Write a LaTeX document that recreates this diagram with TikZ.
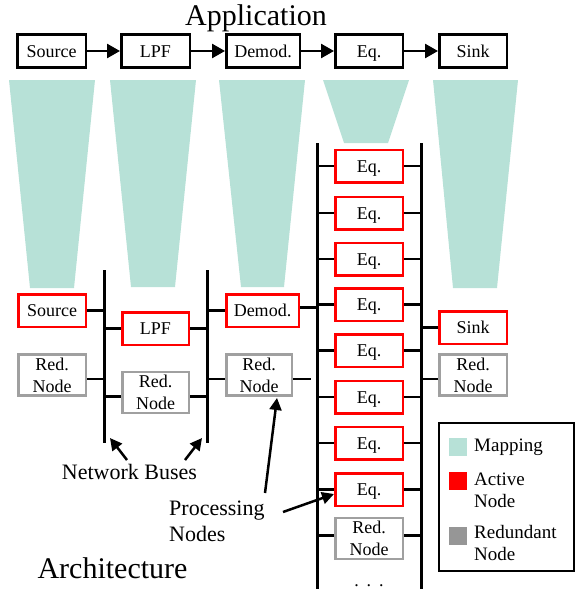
\documentclass[tikz,border=0pt]{standalone}
\usepackage{fontspec}
\setmainfont{Liberation Serif}
\usetikzlibrary{arrows.meta}
\definecolor{mapc}{RGB}{183,225,215}
\definecolor{redc}{RGB}{255,0,0}
\definecolor{grayc}{RGB}{160,160,160}
\definecolor{graysq}{RGB}{150,150,150}
\begin{document}
\begin{tikzpicture}[x=1pt,y=-1pt,
  appbox/.style={draw=black,line width=2.5pt,inner sep=0pt,minimum height=33pt,text height=12.5pt,text depth=0pt,font=\fontsize{18}{20}\selectfont},
  actbox/.style={draw=redc,line width=2.5pt,inner sep=0pt,minimum height=32.5pt,text height=12.5pt,text depth=0pt,font=\fontsize{18}{20}\selectfont},
  redbox/.style={draw=grayc,line width=2.5pt,inner sep=0pt,minimum height=41pt,align=center,font=\fontsize{18}{22}\selectfont},
  bus/.style={line width=3pt},
  conn/.style={line width=2.5pt},
  flow/.style={line width=2.5pt,-{Triangle[length=13pt,width=14pt]}},
  note/.style={line width=2.5pt,-{Triangle[length=12pt,width=12pt]}},
  mapping/.style={fill=mapc},
  label/.style={font=\fontsize{22}{26}\selectfont},
  title/.style={font=\fontsize{30}{36}\selectfont},
  legtext/.style={font=\fontsize{19}{22}\selectfont,anchor=base west,inner sep=0pt}
]
\useasboundingbox (0,0) rectangle (576,589);

% ---------- Application ----------
\node[title,anchor=base] (app) at (256,25) {Application};
\node[appbox,minimum width=68.5pt] (s0) at (51.5,51) {Source};
\node[appbox,minimum width=68.5pt] (l0) at (155.5,51) {LPF};
\node[appbox,minimum width=73.5pt] (d0) at (263,51) {Demod.};
\node[appbox,minimum width=67.5pt] (e0) at (369,51) {Eq.};
\node[appbox,minimum width=67.5pt] (k0) at (473,51) {Sink};
\draw[flow] (s0.east) -- (l0.west);
\draw[flow] (l0.east) -- (d0.west);
\draw[flow] (d0.east) -- (e0.west);
\draw[flow] (e0.east) -- (k0.west);

% ---------- Mapping ----------
\fill[mapping] (9,80) -- (95,80) -- (74,288) -- (30,288) -- cycle;
\fill[mapping] (110,80) -- (196,80) -- (175,287) -- (131,287) -- cycle;
\fill[mapping] (219,80) -- (305,80) -- (284,287) -- (241,287) -- cycle;
\fill[mapping] (323,80) -- (409,80) -- (388,143) -- (344,143) -- cycle;
\fill[mapping] (433,80) -- (518,80) -- (497,288) -- (453,288) -- cycle;

% ---------- Buses ----------
\coordinate (b1t) at (104,270); \coordinate (b1b) at (104,443);
\coordinate (b2t) at (207,270); \coordinate (b2b) at (207,443);
\coordinate (b3t) at (317,143); \coordinate (b3b) at (317,589);
\coordinate (b4t) at (421,143); \coordinate (b4b) at (421,589);
\draw[bus] (b1t) -- (b1b);
\draw[bus] (b2t) -- (b2b);
\draw[bus] (b3t) -- (b3b);
\draw[bus] (b4t) -- (b4b);

% ---------- Architecture nodes ----------
\node[actbox,minimum width=67.5pt] (sA) at (52,310.5) {Source};
\node[actbox,minimum width=66.5pt] (lA) at (155.5,328.5) {LPF};
\node[actbox,minimum width=72.5pt] (dA) at (262.5,310.5) {Demod.};
\node[redbox,minimum width=67.5pt] (r1) at (52,375) {Red.\\Node};
\node[redbox,minimum width=66.5pt] (r2) at (155.5,392.5) {Red.\\Node};
\node[redbox,minimum width=65.5pt] (r3) at (259,375) {Red.\\Node};
\node[actbox,minimum width=67.5pt] (kA) at (473,327.5) {Sink};
\node[redbox,minimum width=67.5pt] (r5) at (473,375) {Red.\\Node};
\node[redbox,minimum width=67.5pt] (r4) at (369,538.5) {Red.\\Node};
\node[font=\fontsize{18}{20}\selectfont,anchor=base] (dots) at (369,586) {.\hspace{8pt}.\hspace{8pt}.};

\foreach \i/\y in {1/166,2/213,3/259,4/304.5,5/350.5,6/397,7/443,8/489.5}{
  \node[actbox,minimum width=67.5pt] (e\i) at (369,\y) {Eq.};
  \draw[conn] (b3t |- e\i.west) -- (e\i.west);
  \draw[conn] (e\i.east) -- (b4t |- e\i.east);
}

% ---------- Connectors to buses ----------
\draw[conn] (sA.east) -- (b1t |- sA.east);
\draw[conn] (b1t |- lA.west) -- (lA.west);
\draw[conn] (lA.east) -- (b2t |- lA.east);
\draw[conn] (b2t |- dA.west) -- (dA.west);
\coordinate (dAe) at ([yshift=3pt]dA.east);
\draw[conn] (dAe) -- (b3t |- dAe);
\coordinate (r1e) at ([yshift=-4pt]r1.east);
\draw[conn] (r1e) -- (b1t |- r1e);
\coordinate (r2w) at ([yshift=-4pt]r2.west);
\coordinate (r2e) at ([yshift=-4pt]r2.east);
\draw[conn] (b1t |- r2w) -- (r2w);
\draw[conn] (r2e) -- (b2t |- r2e);
\coordinate (r3w) at ([yshift=-4pt]r3.west);
\coordinate (r3e) at ([yshift=-4pt]r3.east);
\coordinate (r3end) at (311,379);
\draw[conn] (b2t |- r3w) -- (r3w);
\draw[conn] (r3e) -- (r3end);
\coordinate (r4w) at ([yshift=3pt]r4.west);
\coordinate (r4e) at ([yshift=3pt]r4.east);
\draw[conn] (b3t |- r4w) -- (r4w);
\draw[conn] (r4e) -- (b4t |- r4e);
\draw[conn] (b4t |- kA.west) -- (kA.west);
\coordinate (r5w) at ([yshift=-4pt]r5.west);
\draw[conn] (b4t |- r5w) -- (r5w);

% ---------- Annotations ----------
\node[label,anchor=base] (nb) at (129.5,479) {Network Buses};
\coordinate (nbt1) at (127,460); \coordinate (nbh1) at (110,438);
\coordinate (nbt2) at (185,460); \coordinate (nbh2) at (202,438);
\draw[note] (nbt1) -- (nbh1);
\draw[note] (nbt2) -- (nbh2);

\node[label,anchor=base west,align=left,inner sep=0pt] (pn) at (169,541) {Processing\\Nodes};
\coordinate (pnt1) at (265,493); \coordinate (pnh1) at (277,398);
\coordinate (pnt2) at (283,512); \coordinate (pnh2) at (334,494);
\draw[note] (pnt1) -- (pnh1);
\draw[note] (pnt2) -- (pnh2);

\node[title,anchor=base] (arch) at (112.5,578) {Architecture};

% ---------- Legend ----------
\node[draw=black,line width=2pt,minimum width=135pt,minimum height=148pt,inner sep=0pt] (leg) at (506.5,497) {};
\fill[mapc] (449,438) rectangle (467,456);
\fill[redc] (449,472) rectangle (467,490);
\fill[graysq] (449,527) rectangle (467,545);
\node[legtext] (lm) at (474,451) {Mapping};
\node[legtext] (la1) at (474,485) {Active};
\node[legtext] (la2) at (474,507) {Node};
\node[legtext] (lr1) at (474,538) {Redundant};
\node[legtext] (lr2) at (474,560) {Node};
\end{tikzpicture}
\end{document}
